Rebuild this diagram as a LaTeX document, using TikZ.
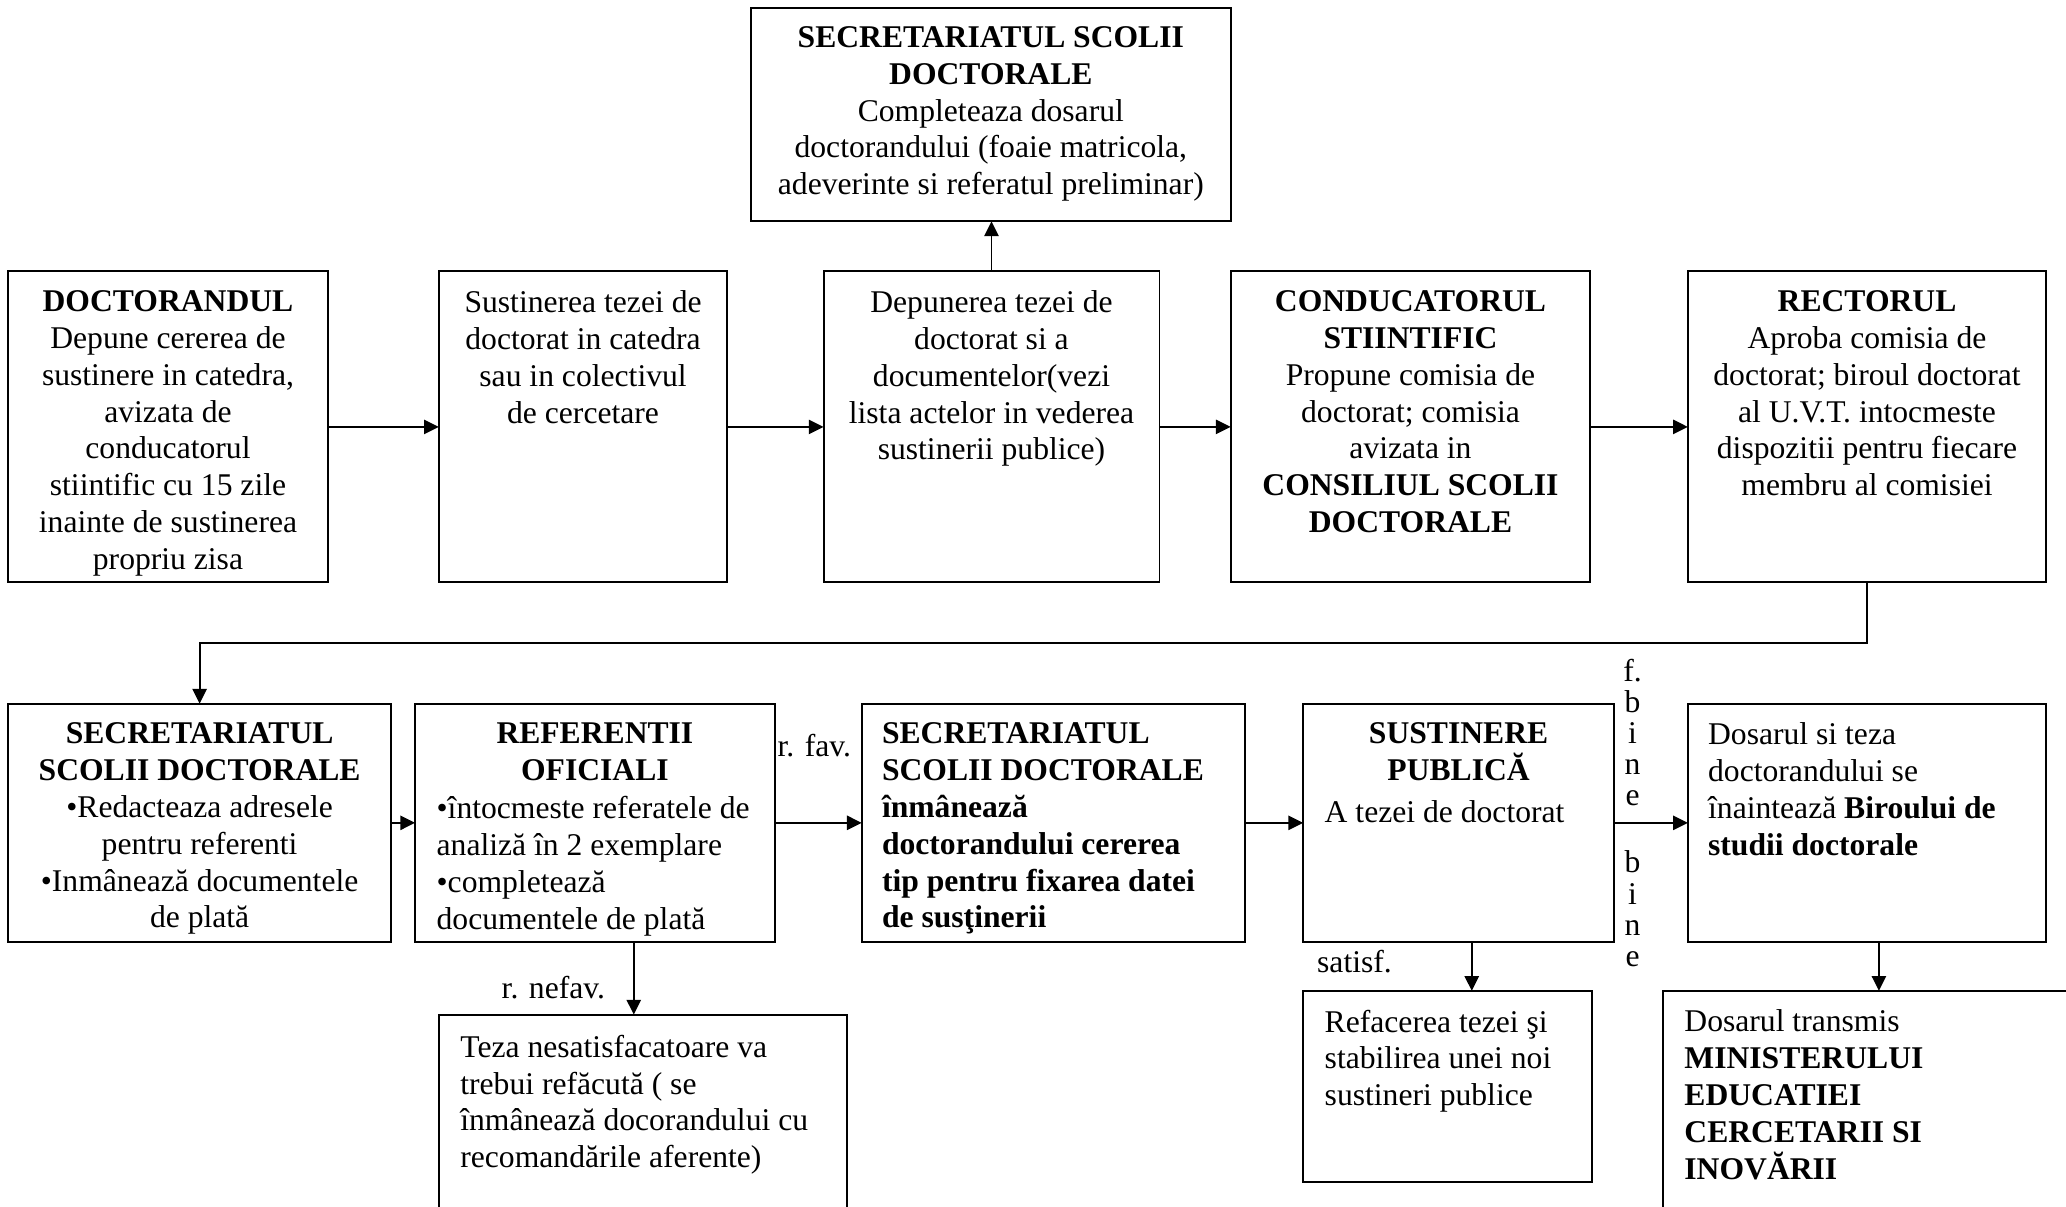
\documentclass[tikz,border=0pt]{standalone}
\usepackage{fontspec}
\setmainfont{Liberation Serif}
\usetikzlibrary{arrows.meta}
\begin{document}
\begin{tikzpicture}[x=0.5pt,y=-0.5pt,
  box/.style={draw, line width=0.75pt, inner sep=0pt, outer sep=0pt, anchor=north west},
  txt/.style={inner sep=0pt, font=\fontsize{12}{14}\selectfont, execute at begin node={\strut}},
  lbl/.style={inner sep=0pt, font=\fontsize{12}{14}\selectfont},
  vlbl/.style={inner sep=0pt, font=\fontsize{12}{11.8}\selectfont, align=center, anchor=north},
  arr/.style={line width=0.75pt, -{Triangle[length=5.6pt,width=5.4pt]}}]
\useasboundingbox (0,0) rectangle (1568,915.3);
\clip (0,0) rectangle (1568,915.3);
% boxes
\node[box, minimum width=182pt, minimum height=81pt] (T) at (570,6) {};
\node[box, minimum width=121.5pt, minimum height=118pt] (B1) at (6,206) {};
\node[box, minimum width=109.5pt, minimum height=118pt] (B2) at (333,206) {};
\node[box, minimum width=127.5pt, minimum height=118pt] (B3) at (625,206) {};
\node[box, minimum width=136.5pt, minimum height=118pt] (B4) at (934,206) {};
\node[box, minimum width=136pt, minimum height=118pt] (B5) at (1281,206) {};
\node[box, minimum width=145.5pt, minimum height=90.5pt] (B6) at (6,534) {};
\node[box, minimum width=136.5pt, minimum height=90.5pt] (B7) at (315,534) {};
\node[box, minimum width=145.5pt, minimum height=90.5pt] (B8) at (654,534) {};
\node[box, minimum width=118pt, minimum height=90.5pt] (B9) at (989,534) {};
\node[box, minimum width=136pt, minimum height=90.5pt] (B10) at (1281,534) {};
\node[box, minimum width=155pt, minimum height=82pt] (B11) at (333,770) {};
\node[box, minimum width=109.5pt, minimum height=72.5pt] (B12) at (989,752) {};
\node[box, minimum width=162pt, minimum height=92pt] (B13) at (1262,752) {};
% texts
\node[txt, align=center, anchor=north] (tT) at (752,19.6) {\textbf{SECRETARIATUL SCOLII}\\\textbf{DOCTORALE}\\Completeaza dosarul\\doctorandului (foaie matricola,\\adeverinte si referatul preliminar)};
\node[txt, align=center, anchor=north] (t1) at (127.5,220) {\textbf{DOCTORANDUL}\\Depune cererea de\\sustinere in catedra,\\avizata de\\conducatorul\\stiintific cu 15 zile\\inainte de sustinerea\\propriu zisa};
\node[txt, align=center, anchor=north] (t2) at (442.5,220) {Sustinerea tezei de\\doctorat in catedra\\sau in colectivul\\de cercetare};
\node[txt, align=center, anchor=north] (t3) at (752.5,220) {Depunerea tezei de\\doctorat si a\\documentelor(vezi\\lista actelor in vederea\\sustinerii publice)};
\node[txt, align=center, anchor=north] (t4) at (1070.5,220) {\textbf{CONDUCATORUL}\\\textbf{STIINTIFIC}\\Propune comisia de\\doctorat; comisia\\avizata in\\\textbf{CONSILIUL SCOLII}\\\textbf{DOCTORALE}};
\node[txt, align=center, anchor=north] (t5) at (1417,220) {\textbf{RECTORUL}\\Aproba comisia de\\doctorat; biroul doctorat\\al U.V.T. intocmeste\\dispozitii pentru fiecare\\membru al comisiei};
\node[txt, align=center, anchor=north] (t6) at (151.5,548) {\textbf{SECRETARIATUL}\\\textbf{SCOLII DOCTORALE}\\•Redacteaza adresele\\pentru referenti\\•Inmânează documentele\\de plată};
\node[txt, align=center, anchor=north] (t7a) at (451.5,548) {\textbf{REFERENTII}\\\textbf{OFICIALI}};
\node[txt, align=left, anchor=north west] (t7b) at (331,604) {•întocmeste referatele de\\analiză în 2 exemplare\\•completează\\documentele de plată};
\node[txt, align=left, anchor=north west] (t8) at (669,548) {\textbf{SECRETARIATUL}\\\textbf{SCOLII DOCTORALE}\\\textbf{înmânează}\\\textbf{doctorandului cererea}\\\textbf{tip pentru fixarea datei}\\\textbf{de susţinerii}};
\node[txt, align=center, anchor=north] (t9a) at (1107,548) {\textbf{SUSTINERE}\\\textbf{PUBLICĂ}};
\node[txt, align=left, anchor=north west] (t9b) at (1005,604) {A tezei de doctorat};
\node[txt, align=left, anchor=north west] (t10) at (1296,548) {Dosarul si teza\\doctorandului se\\înaintează \textbf{Biroului de}\\\textbf{studii doctorale}};
\node[txt, align=left, anchor=north west] (t11) at (349,785) {Teza nesatisfacatoare va\\trebui refăcută ( se\\înmânează docorandului cu\\recomandările aferente)};
\node[txt, align=left, anchor=north west] (t12) at (1005,766) {Refacerea tezei şi\\stabilirea unei noi\\sustineri publice};
\node[txt, align=left, anchor=north west] (t13) at (1278,766) {Dosarul transmis\\\textbf{MINISTERULUI}\\\textbf{EDUCATIEI}\\\textbf{CERCETARII SI}\\\textbf{INOVĂRII}};
% labels
\node[lbl, anchor=base] (lfav) at (618,574) {r. fav.};
\node[lbl, anchor=base] (lnefav) at (420,758) {r. nefav.};
\node[lbl, anchor=base] (lsat) at (1028,738) {satisf.};
\node[vlbl] (lfb) at (1239,500) {f.\\b\\i\\n\\e};
\node[vlbl] (lb) at (1239,645.5) {b\\i\\n\\e};
% connectors
\coordinate (turn) at (0,488);
\draw[arr] (B1.east) -- (B2.west);
\draw[arr] (B2.east) -- (B3.west);
\draw[arr] (B3.east) -- (B4.west);
\draw[arr] (B4.east) -- (B5.west);
\draw[arr] (B3.north) -- (B3.north |- T.south);
\draw[arr] (B5.south) -- (B5.south |- turn) -| (B6.north);
\draw[arr] (B6.east) -- (B7.west);
\draw[arr] (B7.east) -- (B8.west);
\draw[arr] (B8.east) -- (B9.west);
\draw[arr] (B9.east) -- (B10.west);
\coordinate (c7) at (481,715);
\coordinate (c9) at (1117,715);
\coordinate (c10) at (1426,715);
\draw[arr] (c7) -- (c7 |- B11.north);
\draw[arr] (c9) -- (c9 |- B12.north);
\draw[arr] (c10) -- (c10 |- B13.north);
\end{tikzpicture}
\end{document}
